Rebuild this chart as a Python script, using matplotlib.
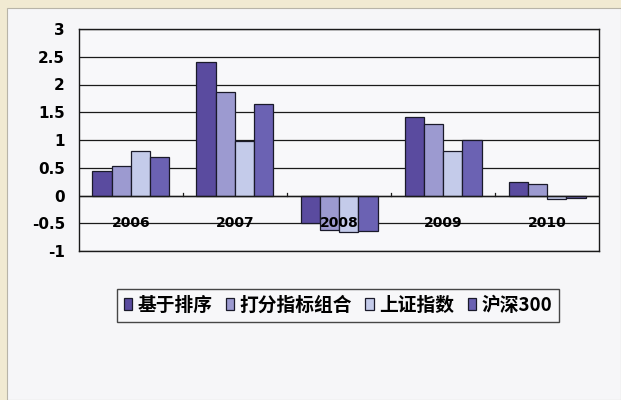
import numpy as np
import matplotlib.pyplot as plt
from matplotlib.patches import Rectangle

plt.rcParams['font.family'] = ['Noto Sans CJK SC', 'DejaVu Sans']

years = ['2006', '2007', '2008', '2009', '2010']
series_names = ['基于排序', '打分指标组合', '上证指数', '沪深300']
sort_based = [0.44, 2.41, -0.50, 1.42, 0.25]
score_combo = [0.54, 1.87, -0.62, 1.28, 0.20]
sh_index = [0.80, 0.99, -0.66, 0.81, -0.07]
hs300 = [0.70, 1.64, -0.64, 1.00, -0.04]

colors = ['#5a4b9f', '#9c9ad0', '#c4cbea', '#6b62b3']

fig = plt.figure(figsize=(6.21, 4.0), dpi=100, facecolor='#f1ead2')
# inner light panel, kept behind the axes
fig.patches.append(Rectangle((0.011, 0.0), 0.989, 0.98, transform=fig.transFigure,
                             facecolor='#f6f6f8', edgecolor='#b8b4a8', linewidth=0.8,
                             zorder=-10))

ax = fig.add_axes([0.127, 0.3725, 0.838, 0.555])
ax.set_facecolor('#f8f8fa')

ind = np.arange(len(years))
width = 0.185
all_series = [sort_based, score_combo, sh_index, hs300]
for i, (vals, name, c) in enumerate(zip(all_series, series_names, colors)):
    ax.bar(ind + (i - 1.5) * width, vals, width, color=c, edgecolor='#1a1a2a',
           linewidth=0.9, label=name, zorder=3)

ax.set_xlim(-0.5, len(years) - 0.5)
ax.set_ylim(-1, 3)
ax.set_yticks(np.arange(-1, 3.01, 0.5))
ax.set_yticklabels(['-1', '-0.5', '0', '0.5', '1', '1.5', '2', '2.5', '3'],
                   fontsize=11, fontweight='bold', family='DejaVu Sans')
ax.tick_params(axis='y', length=0, pad=10)
ax.set_xticks([])
ax.yaxis.grid(True, color='#1a1a1a', linewidth=0.9, zorder=1)
ax.axhline(0, color='#1a1a1a', linewidth=1.0, zorder=4)
for s in ax.spines.values():
    s.set_color('#1a1a1a')
    s.set_linewidth(1.0)

# small tick marks between categories on the zero line
for b in ind[:-1] + 0.5:
    ax.plot([b, b], [0, 0.05], color='#1a1a1a', linewidth=0.9, zorder=4)

# category labels sit just below the zero line
for x, yr in zip(ind, years):
    ax.text(x, -0.5, yr, ha='center', va='center', fontsize=10,
            fontweight='bold', family='DejaVu Sans', zorder=5)

leg = fig.legend(loc='center', bbox_to_anchor=(338 / 621, 1 - 305.5 / 400),
                 ncol=4, frameon=True, fancybox=False, edgecolor='#1a1a1a',
                 prop={'size': 13.5, 'weight': 'bold'},
                 handlelength=0.45, handleheight=0.6, handletextpad=0.3,
                 columnspacing=0.7, borderpad=0.35)
leg.get_frame().set_linewidth(1.0)
leg.get_frame().set_facecolor('#f8f8fa')

fig.savefig('out.png', dpi=100, facecolor=fig.get_facecolor())
